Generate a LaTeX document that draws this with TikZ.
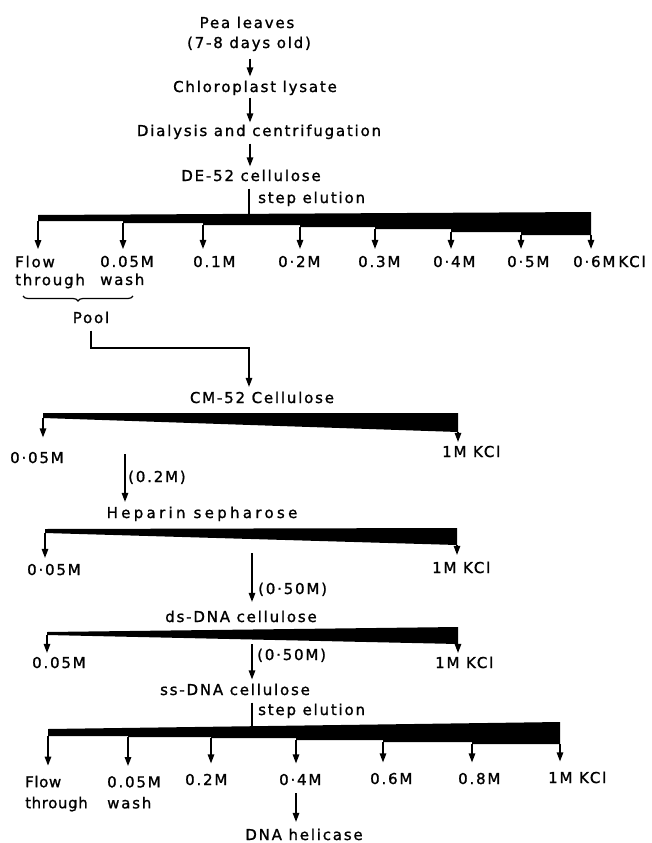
\documentclass[tikz,border=0pt]{standalone}
\usepackage{fontspec}
\usepackage{tikz}
\usetikzlibrary{arrows.meta, decorations.pathreplacing}
\newfontfamily\letterfont[LetterSpace=12, FakeBold=1.2]{DejaVu Sans}

\begin{document}
\begin{tikzpicture}[x=1pt, y=-1pt, font=\letterfont\fontsize{15}{19}\selectfont,
    lbl/.style={inner sep=0pt, text height=11.4pt, text depth=3.5pt},
    lbltwo/.style={inner sep=0pt, align=left, anchor=north west},
    flow/.style={line width=1.4pt, -{Triangle[length=9pt, width=6.5pt]}},
    rail/.style={line width=1.4pt}]
    \useasboundingbox (0,0) rectangle (652,843);

    % main column
    \node[lbl, anchor=base] (pea) at (247,28) {Pea leaves};
    \node[lbl, anchor=base] (age) at (249,48) {(7-8 days old)};
    \node[lbl, anchor=base] (chloro) at (255,92) {Chloroplast lysate};
    \node[lbl, anchor=base] (dial) at (259,136) {Dialysis and centrifugation};
    \node[lbl, anchor=base] (de) at (251,181) {DE-52 cellulose};
    \coordinate (spine) at (250,0);

    \draw[flow, shorten <=7pt, shorten >=4pt] (age.south -| spine) -- (chloro.north -| spine);
    \draw[flow, shorten <=2pt, shorten >=2pt] (chloro.south -| spine) -- (dial.north -| spine);
    \draw[flow, shorten <=4pt, shorten >=3pt] (dial.south -| spine) -- (de.north -| spine);

    % DE-52 step elution
    \coordinate (detop) at (249,214);
    \draw[rail, shorten <=4pt] (de.south -| detop) -- (detop);
    \node[lbl, anchor=base west] (destep) at (258,203) {step elution};
    \fill (38,215) -- (591,212) -- (591,235) -- (521,235) -- (521,232) -- (451,232)
        -- (451,229) -- (375,229) -- (375,227) -- (300,227) -- (300,225) -- (203,225)
        -- (203,223) -- (123,223) -- (123,221) -- (38,221) -- cycle;
    \coordinate (d1) at (38,221);
    \coordinate (d2) at (123,223);
    \coordinate (d3) at (203,225);
    \coordinate (d4) at (300,227);
    \coordinate (d5) at (375,229);
    \coordinate (d6) at (451,232);
    \coordinate (d7) at (521,235);
    \coordinate (d8) at (591,235);

    \node[lbltwo] (dl1) at (15,255.6) {Flow\\[-1pt]through};
    \node[lbltwo] (dl2) at (100,255.6) {0.05M\\[-1pt]wash};
    \node[lbl, anchor=base west] (dl3) at (193,267) {0.1M};
    \node[lbl, anchor=base west] (dl4) at (278,267) {0·2M};
    \node[lbl, anchor=base west] (dl5) at (358,267) {0.3M};
    \node[lbl, anchor=base west] (dl6) at (433,267) {0·4M};
    \node[lbl, anchor=base west] (dl7) at (507,267) {0·5M};
    \node[lbl, anchor=base west] (dl8) at (573,267) {0·6M\hspace{3pt}KCl};
    \foreach \i in {1,...,8}
        \draw[flow, shorten >=6.5pt] (d\i) -- (d\i |- dl\i.north);

    % pooled fractions
    \draw[line width=1.2pt, decorate, decoration={brace, mirror, amplitude=5pt}] (23,296) -- (133,296);
    \node[lbl, anchor=base] (pool) at (91,323) {Pool};
    \coordinate (bend) at (249,348);
    \node[lbl, anchor=base] (cm) at (262,403) {CM-52 Cellulose};
    \draw[flow, shorten <=4pt, shorten >=4.5pt] (pool.south) |- (bend) -- (bend |- cm.north);

    % CM-52 gradient
    \fill (43,413) -- (458,413) -- (458,432) -- (43,418) -- cycle;
    \coordinate (c1) at (43,418);
    \coordinate (c2) at (458,432);
    \node[lbl, anchor=base west] (cl1) at (10,463) {0·05M};
    \node[lbl, anchor=base west] (cl2) at (442,457) {1M KCl};
    \draw[flow, shorten >=14pt] (c1) -- (c1 |- cl1.north);
    \draw[flow, shorten >=3.5pt] (c2) -- (c2 |- cl2.north);

    \coordinate (cmout) at (125,454);
    \node[lbl, anchor=base] (hep) at (202,518) {\addfontfeatures{LetterSpace=22}Heparin sepharose};
    \draw[flow, shorten >=4.5pt] (cmout) -- (cmout |- hep.north);
    \node[lbl, anchor=base west] (cmcut) at (128,482) {(0.2M)};

    % heparin gradient
    \fill (45,529) -- (457,528) -- (457,545) -- (45,533) -- cycle;
    \coordinate (h1) at (45,533);
    \coordinate (h2) at (457,545);
    \node[lbl, anchor=base west] (hl1) at (27,575) {0·05M};
    \node[lbl, anchor=base west] (hl2) at (432,573) {1M KCl};
    \draw[flow, shorten >=5.5pt] (h1) -- (h1 |- hl1.north);
    \draw[flow, shorten >=6.5pt] (h2) -- (h2 |- hl2.north);

    \coordinate (hepout) at (252,553);
    \node[lbl, anchor=base] (ds) at (241,622) {ds-DNA cellulose};
    \draw[flow, shorten >=8.5pt] (hepout) -- (hepout |- ds.north);
    \node[lbl, anchor=base west] (hepcut) at (258,594) {(0·50M)};

    % ds-DNA gradient
    \fill (47,632) -- (458,627) -- (458,644) -- (47,635) -- cycle;
    \coordinate (s1) at (47,635);
    \coordinate (s2) at (458,644);
    \node[lbl, anchor=base west] (sl1) at (32,668) {0.05M};
    \node[lbl, anchor=base west] (sl2) at (435,668) {1M KCl};
    \draw[flow, shorten >=3.5pt] (s1) -- (s1 |- sl1.north);
    \draw[flow, shorten >=3.5pt] (s2) -- (s2 |- sl2.north);

    \coordinate (dsout) at (252,644);
    \node[lbl, anchor=base] (ss) at (235,695) {ss-DNA cellulose};
    \draw[flow, shorten >=4pt] (dsout) -- (dsout |- ss.north);
    \node[lbl, anchor=base west] (dscut) at (257,660) {(0·50M)};

    % ss-DNA step elution
    \coordinate (sstop) at (252,726);
    \draw[rail, shorten <=4pt] (ss.south -| sstop) -- (sstop);
    \node[lbl, anchor=base west] (ssstep) at (258,715) {step elution};
    \fill (48,729) -- (560,722) -- (560,744) -- (472,744) -- (472,742) -- (383,742)
        -- (383,740) -- (296,740) -- (296,738) -- (211,738) -- (211,737) -- (128,737)
        -- (128,736) -- (48,736) -- cycle;
    \coordinate (b1) at (48,736);
    \coordinate (b2) at (128,737);
    \coordinate (b3) at (211,738);
    \coordinate (b4) at (296,740);
    \coordinate (b5) at (383,742);
    \coordinate (b6) at (472,744);
    \coordinate (b7) at (560,744);

    \node[lbltwo] (bl1) at (25,775.6) {\addfontfeatures{LetterSpace=4}Flow\\[2pt]\addfontfeatures{LetterSpace=4}through};
    \node[lbltwo] (bl2) at (107,776) {0.05M\\[2pt]wash};
    \node[lbl, anchor=base west] (bl3) at (185,785) {0.2M};
    \node[lbl, anchor=base west] (bl4) at (279,785) {0·4M};
    \node[lbl, anchor=base west] (bl5) at (370,784) {0.6M};
    \node[lbl, anchor=base west] (bl6) at (458,784) {0.8M};
    \node[lbl, anchor=base west] (bl7) at (548,783) {1M KCl};
    \foreach \i in {1,...,7}
        \draw[flow, shorten >=10pt] (b\i) -- (b\i |- bl\i.north);

    % product
    \node[lbl, anchor=base] (dna) at (304,840) {DNA helicase};
    \draw[flow, shorten <=4.5pt, shorten >=6.5pt] (bl4.south -| b4) -- (b4 |- dna.north);
\end{tikzpicture}
\end{document}
